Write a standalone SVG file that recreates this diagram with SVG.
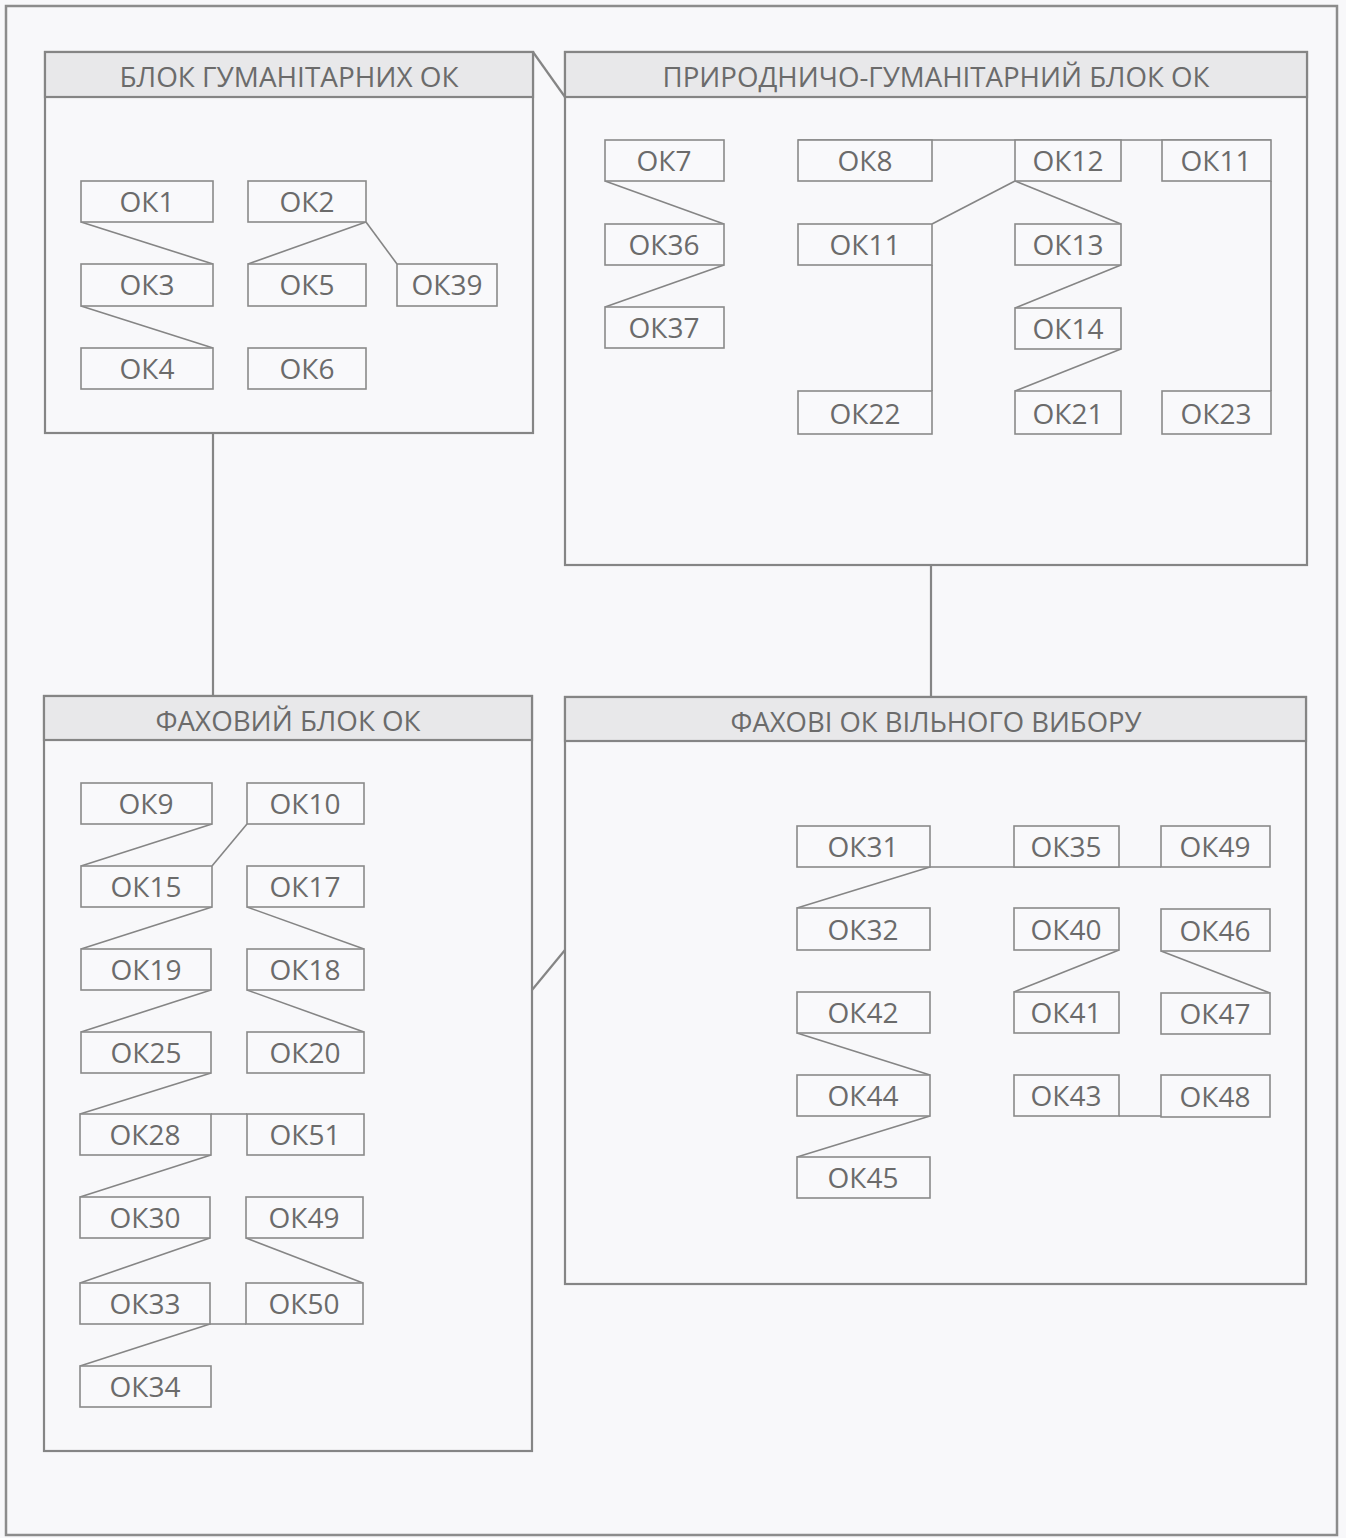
<svg xmlns="http://www.w3.org/2000/svg" width="1346" height="1538" viewBox="0 0 1346 1538">
<style>
.bg{fill:#f8f8fa}
.frame{fill:none;stroke:#8c8c8c;stroke-width:2.5}
.blk{fill:#f8f8fa;stroke:#858585;stroke-width:2.2}
.hdr{fill:#e8e8ea;stroke:#858585;stroke-width:2.2}
.nd{fill:#f9f9fb;stroke:#8a8a8a;stroke-width:1.6}
.ln{fill:none;stroke:#858585;stroke-width:1.6}
.bl{fill:none;stroke:#858585;stroke-width:2.2}
.t{font-family:"Open Sans","Noto Sans","Liberation Sans",sans-serif;font-size:28px;fill:#6b6b6b;text-anchor:middle}
.h{font-family:"Open Sans","Noto Sans","Liberation Sans",sans-serif;font-size:28px;fill:#6b6b6b;text-anchor:middle}
</style>
<rect class="bg" x="0" y="0" width="1346" height="1538"/>
<rect class="frame" x="6" y="6" width="1331" height="1529"/>

<g id="block-hum">
<rect class="blk" x="45" y="52" width="488" height="381"/>
<rect class="hdr" x="45" y="52" width="488" height="45"/>
<text class="h" x="289" y="87" textLength="339" lengthAdjust="spacingAndGlyphs">БЛОК ГУМАНІТАРНИХ ОК</text>
</g>
<g id="block-nat">
<rect class="blk" x="565" y="52" width="742" height="513"/>
<rect class="hdr" x="565" y="52" width="742" height="45"/>
<text class="h" x="936" y="87" textLength="547" lengthAdjust="spacingAndGlyphs">ПРИРОДНИЧО-ГУМАНІТАРНИЙ БЛОК ОК</text>
</g>
<g id="block-prof">
<rect class="blk" x="44" y="696" width="488" height="755"/>
<rect class="hdr" x="44" y="696" width="488" height="44"/>
<text class="h" x="288" y="731" textLength="265" lengthAdjust="spacingAndGlyphs">ФАХОВИЙ БЛОК ОК</text>
</g>
<g id="block-free">
<rect class="blk" x="565" y="697" width="741" height="587"/>
<rect class="hdr" x="565" y="697" width="741" height="44"/>
<text class="h" x="936" y="732" textLength="411" lengthAdjust="spacingAndGlyphs">ФАХОВІ ОК ВІЛЬНОГО ВИБОРУ</text>
</g>

<g id="connectors">
<line class="bl" x1="213" y1="433" x2="213" y2="696"/>
<line class="bl" x1="931" y1="565" x2="931" y2="697"/>
<line class="bl" x1="533" y1="52" x2="565" y2="97"/>
<line class="bl" x1="532" y1="990" x2="565" y2="950"/>
<line class="ln" x1="81" y1="222" x2="213" y2="264"/>
<line class="ln" x1="81" y1="306" x2="213" y2="348"/>
<line class="ln" x1="366" y1="222" x2="248" y2="264"/>
<line class="ln" x1="366" y1="222" x2="397" y2="264"/>
<line class="ln" x1="605" y1="181" x2="724" y2="224"/>
<line class="ln" x1="724" y1="265" x2="605" y2="307"/>
<line class="ln" x1="798" y1="140" x2="1271" y2="140"/>
<line class="ln" x1="1015" y1="181" x2="932" y2="224"/>
<line class="ln" x1="1015" y1="181" x2="1121" y2="224"/>
<line class="ln" x1="1121" y1="265" x2="1015" y2="308"/>
<line class="ln" x1="1121" y1="349" x2="1015" y2="391"/>
<line class="ln" x1="932" y1="265" x2="932" y2="391"/>
<line class="ln" x1="1271" y1="181" x2="1271" y2="391"/>
<line class="ln" x1="212" y1="824" x2="81" y2="866"/>
<line class="ln" x1="247" y1="824" x2="212" y2="866"/>
<line class="ln" x1="212" y1="907" x2="81" y2="949"/>
<line class="ln" x1="211" y1="990" x2="81" y2="1032"/>
<line class="ln" x1="211" y1="1073" x2="80" y2="1114"/>
<line class="ln" x1="211" y1="1114" x2="247" y2="1114"/>
<line class="ln" x1="211" y1="1155" x2="80" y2="1197"/>
<line class="ln" x1="210" y1="1238" x2="80" y2="1283"/>
<line class="ln" x1="210" y1="1324" x2="80" y2="1366"/>
<line class="ln" x1="210" y1="1324" x2="246" y2="1324"/>
<line class="ln" x1="247" y1="907" x2="364" y2="949"/>
<line class="ln" x1="247" y1="990" x2="364" y2="1032"/>
<line class="ln" x1="246" y1="1238" x2="363" y2="1283"/>
<line class="ln" x1="930" y1="867" x2="1161" y2="867"/>
<line class="ln" x1="930" y1="867" x2="797" y2="908"/>
<line class="ln" x1="1119" y1="950" x2="1014" y2="992"/>
<line class="ln" x1="1161" y1="951" x2="1270" y2="993"/>
<line class="ln" x1="797" y1="1033" x2="930" y2="1075"/>
<line class="ln" x1="930" y1="1116" x2="797" y2="1157"/>
<line class="ln" x1="1119" y1="1116" x2="1161" y2="1116"/>
</g>

<g id="ok1"><rect class="nd" x="81" y="181" width="132" height="41"/><text class="t" x="147" y="212">ОК1</text></g>
<g id="ok2"><rect class="nd" x="248" y="181" width="118" height="41"/><text class="t" x="307" y="212">ОК2</text></g>
<g id="ok3"><rect class="nd" x="81" y="264" width="132" height="42"/><text class="t" x="147" y="295">ОК3</text></g>
<g id="ok5"><rect class="nd" x="248" y="264" width="118" height="42"/><text class="t" x="307" y="295">ОК5</text></g>
<g id="ok39a"><rect class="nd" x="397" y="264" width="100" height="42"/><text class="t" x="447" y="295">ОК39</text></g>
<g id="ok4"><rect class="nd" x="81" y="348" width="132" height="41"/><text class="t" x="147" y="379">ОК4</text></g>
<g id="ok6"><rect class="nd" x="248" y="348" width="118" height="41"/><text class="t" x="307" y="379">ОК6</text></g>

<g id="ok7"><rect class="nd" x="605" y="140" width="119" height="41"/><text class="t" x="664" y="171">ОК7</text></g>
<g id="ok36"><rect class="nd" x="605" y="224" width="119" height="41"/><text class="t" x="664" y="255">ОК36</text></g>
<g id="ok37"><rect class="nd" x="605" y="307" width="119" height="41"/><text class="t" x="664" y="338">ОК37</text></g>
<g id="ok8"><rect class="nd" x="798" y="140" width="134" height="41"/><text class="t" x="865" y="171">ОК8</text></g>
<g id="ok12"><rect class="nd" x="1015" y="140" width="106" height="41"/><text class="t" x="1068" y="171">ОК12</text></g>
<g id="ok11b"><rect class="nd" x="1162" y="140" width="109" height="41"/><text class="t" x="1216" y="171">ОК11</text></g>
<g id="ok11a"><rect class="nd" x="798" y="224" width="134" height="41"/><text class="t" x="865" y="255">ОК11</text></g>
<g id="ok13"><rect class="nd" x="1015" y="224" width="106" height="41"/><text class="t" x="1068" y="255">ОК13</text></g>
<g id="ok14"><rect class="nd" x="1015" y="308" width="106" height="41"/><text class="t" x="1068" y="339">ОК14</text></g>
<g id="ok22"><rect class="nd" x="798" y="391" width="134" height="43"/><text class="t" x="865" y="424">ОК22</text></g>
<g id="ok21"><rect class="nd" x="1015" y="391" width="106" height="43"/><text class="t" x="1068" y="424">ОК21</text></g>
<g id="ok23"><rect class="nd" x="1162" y="391" width="109" height="43"/><text class="t" x="1216" y="424">ОК23</text></g>

<g id="ok9"><rect class="nd" x="81" y="783" width="131" height="41"/><text class="t" x="146" y="814">ОК9</text></g>
<g id="ok10"><rect class="nd" x="247" y="783" width="117" height="41"/><text class="t" x="305" y="814">ОК10</text></g>
<g id="ok15"><rect class="nd" x="81" y="866" width="131" height="41"/><text class="t" x="146" y="897">ОК15</text></g>
<g id="ok17"><rect class="nd" x="247" y="866" width="117" height="41"/><text class="t" x="305" y="897">ОК17</text></g>
<g id="ok19"><rect class="nd" x="81" y="949" width="130" height="41"/><text class="t" x="146" y="980">ОК19</text></g>
<g id="ok18"><rect class="nd" x="247" y="949" width="117" height="41"/><text class="t" x="305" y="980">ОК18</text></g>
<g id="ok25"><rect class="nd" x="81" y="1032" width="130" height="41"/><text class="t" x="146" y="1063">ОК25</text></g>
<g id="ok20"><rect class="nd" x="247" y="1032" width="117" height="41"/><text class="t" x="305" y="1063">ОК20</text></g>
<g id="ok28"><rect class="nd" x="80" y="1114" width="131" height="41"/><text class="t" x="145" y="1145">ОК28</text></g>
<g id="ok51"><rect class="nd" x="247" y="1114" width="117" height="41"/><text class="t" x="305" y="1145">ОК51</text></g>
<g id="ok30"><rect class="nd" x="80" y="1197" width="130" height="41"/><text class="t" x="145" y="1228">ОК30</text></g>
<g id="ok49a"><rect class="nd" x="246" y="1197" width="117" height="41"/><text class="t" x="304" y="1228">ОК49</text></g>
<g id="ok33"><rect class="nd" x="80" y="1283" width="130" height="41"/><text class="t" x="145" y="1314">ОК33</text></g>
<g id="ok50"><rect class="nd" x="246" y="1283" width="117" height="41"/><text class="t" x="304" y="1314">ОК50</text></g>
<g id="ok34"><rect class="nd" x="80" y="1366" width="131" height="41"/><text class="t" x="145" y="1397">ОК34</text></g>

<g id="ok31"><rect class="nd" x="797" y="826" width="133" height="41"/><text class="t" x="863" y="857">ОК31</text></g>
<g id="ok35"><rect class="nd" x="1014" y="826" width="105" height="41"/><text class="t" x="1066" y="857">ОК35</text></g>
<g id="ok49b"><rect class="nd" x="1161" y="826" width="109" height="41"/><text class="t" x="1215" y="857">ОК49</text></g>
<g id="ok32"><rect class="nd" x="797" y="908" width="133" height="42"/><text class="t" x="863" y="940">ОК32</text></g>
<g id="ok40"><rect class="nd" x="1014" y="908" width="105" height="42"/><text class="t" x="1066" y="940">ОК40</text></g>
<g id="ok46"><rect class="nd" x="1161" y="909" width="109" height="42"/><text class="t" x="1215" y="941">ОК46</text></g>
<g id="ok42"><rect class="nd" x="797" y="992" width="133" height="41"/><text class="t" x="863" y="1023">ОК42</text></g>
<g id="ok41"><rect class="nd" x="1014" y="992" width="105" height="41"/><text class="t" x="1066" y="1023">ОК41</text></g>
<g id="ok47"><rect class="nd" x="1161" y="993" width="109" height="41"/><text class="t" x="1215" y="1024">ОК47</text></g>
<g id="ok44"><rect class="nd" x="797" y="1075" width="133" height="41"/><text class="t" x="863" y="1106">ОК44</text></g>
<g id="ok43"><rect class="nd" x="1014" y="1075" width="105" height="41"/><text class="t" x="1066" y="1106">ОК43</text></g>
<g id="ok48"><rect class="nd" x="1161" y="1075" width="109" height="42"/><text class="t" x="1215" y="1107">ОК48</text></g>
<g id="ok45"><rect class="nd" x="797" y="1157" width="133" height="41"/><text class="t" x="863" y="1188">ОК45</text></g>
</svg>
